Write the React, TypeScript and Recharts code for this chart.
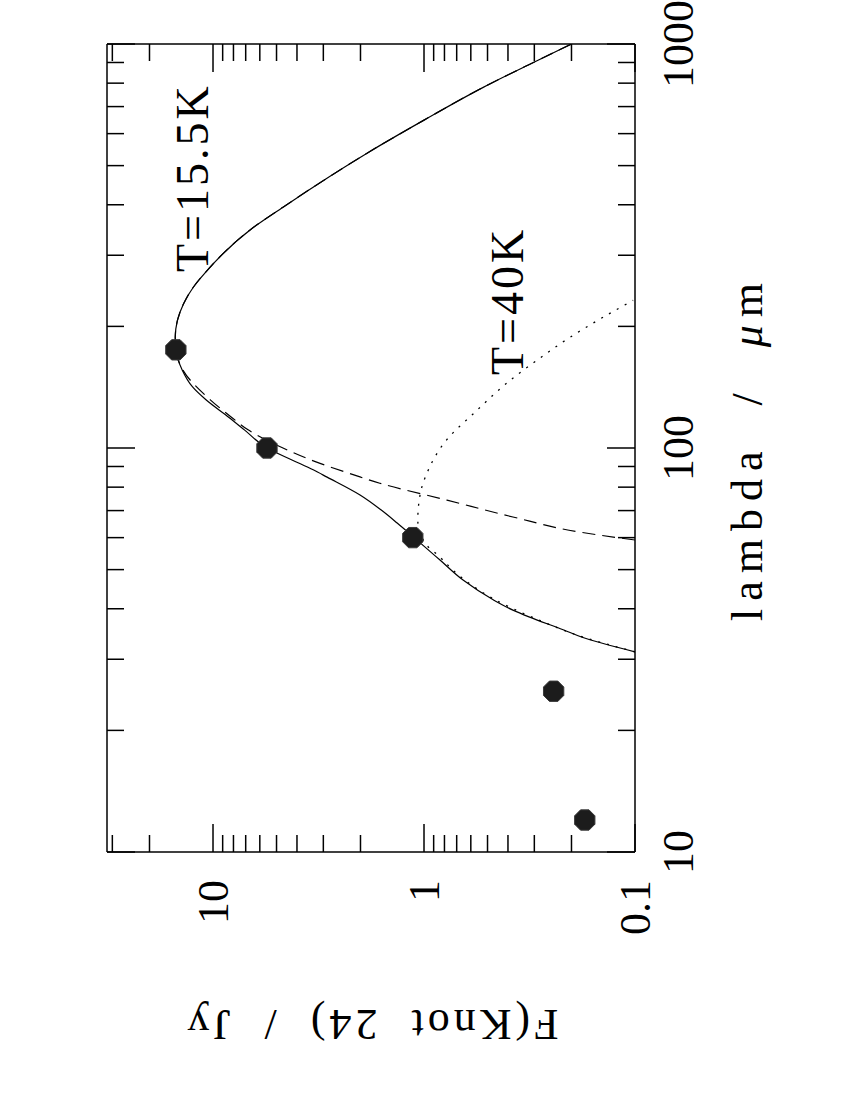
import { ComposedChart, Line, Scatter, XAxis, YAxis, Customized } from "recharts";

// wavelength (micron) and flux (Jy)
const pointLambda = [12, 25, 60, 100, 175];
const pointFlux = [0.173, 0.243, 1.13, 5.55, 15.0];

// total fit (solid)
const sumLambda = [31.3, 34.0, 35.5, 38.2, 39.7, 42.1, 47.1, 52.8, 59.9, 65.2, 70.3, 76.5, 84.7, 88.3, 93.3, 100, 110.9, 119, 131.6, 141.6, 156, 175, 188, 228, 250, 273, 347, 395, 448, 536, 648, 781, 900, 1000];
const sumFlux = [0.1, 0.178, 0.219, 0.318, 0.379, 0.47, 0.653, 0.84, 1.11, 1.34, 1.6, 2.01, 2.88, 3.35, 4.2, 5.55, 7.1, 8.4, 10.8, 12.5, 14.0, 15.0, 15.1, 13.77, 12.4, 10.8, 6.65, 4.64, 3.23, 1.87, 1.0, 0.524, 0.303, 0.2];

// T=15.5K component (dashed)
const coldLambda = [59.2, 61.9, 67.5, 74.3, 81.8, 85.8, 91.6, 100, 110.9, 119, 131.6, 156, 175, 188, 228, 250, 273, 347, 395, 448, 536, 648, 781, 900, 1000];
const coldFlux = [0.1, 0.182, 0.379, 0.778, 1.62, 2.15, 3.11, 4.66, 6.82, 8.15, 10.3, 13.9, 15.0, 15.1, 13.77, 12.4, 10.8, 6.65, 4.64, 3.23, 1.87, 1.0, 0.524, 0.303, 0.2];

// T=40K component (dotted)
const warmLambda = [31.3, 34.0, 38.2, 42.1, 47.1, 49.9, 53.7, 58.2, 66.4, 77.4, 86.7, 105, 123, 142, 147, 165, 188, 211, 232];
const warmFlux = [0.1, 0.175, 0.31, 0.46, 0.64, 0.73, 0.84, 0.99, 1.07, 1.04, 0.968, 0.778, 0.57, 0.423, 0.391, 0.291, 0.203, 0.141, 0.102];

const lambdaTicks = [10, 20, 30, 40, 50, 60, 70, 80, 90, 100, 200, 300, 400, 500, 600, 700, 800, 900, 1000];
const lambdaMajor = [10, 100, 1000];
const fluxTicks = [0.1, 0.2, 0.3, 0.4, 0.5, 0.6, 0.7, 0.8, 0.9, 1, 2, 3, 4, 5, 6, 7, 8, 9, 10, 20, 30];
const fluxMajor = [0.1, 1, 10];

const rows = (lam: number[], f: number[]) => lam.map((l, i) => ({ lambda: l, f: f[i] }));

const FONT = "'Liberation Serif', 'Times New Roman', serif";
const W = 1088;
const H = 708;
const MARGIN = { top: 10, right: 50, bottom: 150, left: 210 };
const AXIS = 10;
const PLOT_W = W - MARGIN.left - MARGIN.right - 2 * AXIS;

const BottomTick = (p: any) => {
  const x = Number(p.x);
  const y = Number(p.y);
  const major = lambdaMajor.includes(p.payload.value);
  return (
    <g>
      <line x1={x} y1={y} x2={x} y2={y - (major ? 28 : 17)} stroke="#000" strokeWidth={1.5} />
      {major && (
        <text x={x} y={y + 58} textAnchor="middle" fontSize={44} fontFamily={FONT} fill="#000">
          {p.payload.value}
        </text>
      )}
    </g>
  );
};

const TopTick = (p: any) => {
  const x = Number(p.x);
  const y = Number(p.y);
  const major = lambdaMajor.includes(p.payload.value);
  return <line x1={x} y1={y} x2={x} y2={y + (major ? 28 : 17)} stroke="#000" strokeWidth={1.5} />;
};

// left ticks + labels, and the mirrored ticks on the right edge of the frame
const LeftTick = (p: any) => {
  const x = Number(p.x);
  const y = Number(p.y);
  const major = fluxMajor.includes(p.payload.value);
  const len = major ? 28 : 17;
  const xr = x + PLOT_W;
  return (
    <g>
      <line x1={x} y1={y} x2={x + len} y2={y} stroke="#000" strokeWidth={1.5} />
      <line x1={xr} y1={y} x2={xr - len} y2={y} stroke="#000" strokeWidth={1.5} />
      {major && (
        <text x={x - 28} y={y + 15} textAnchor="end" fontSize={44} fontFamily={FONT} fill="#000">
          {p.payload.value}
        </text>
      )}
    </g>
  );
};

const Marker = (p: any) => {
  const r = 11;
  const pts = Array.from({ length: 8 }, (_, k) => {
    const a = ((22.5 + 45 * k) * Math.PI) / 180;
    return `${p.cx + r * Math.cos(a)},${p.cy + r * Math.sin(a)}`;
  }).join(" ");
  return <polygon points={pts} fill="#1c1c1c" stroke="#3a3a3a" strokeWidth={1} />;
};

const Texts = () => (
  <g fontFamily={FONT} fill="#000">
    <text x={624} y={675} textAnchor="middle" fontSize={44} letterSpacing={8} style={{ whiteSpace: "pre" }}>
      {"lambda  /  "}
      <tspan fontStyle="italic">μ</tspan>
      {"m"}
    </text>
    <text
      x={62}
      y={284}
      textAnchor="middle"
      fontSize={44}
      letterSpacing={4}
      transform="rotate(-90 62 284)"
      style={{ whiteSpace: "pre" }}
    >
      {"F(Knot  24)  /  Jy"}
    </text>
    <text x={800} y={121} fontSize={46} letterSpacing={3}>T=15.5K</text>
    <text x={697} y={436} fontSize={46} letterSpacing={3}>T=40K</text>
  </g>
);

export default function App() {
  return (
    <div
      style={{
        position: "absolute",
        left: 87,
        top: -16,
        width: W,
        height: H,
        transformOrigin: "0 0",
        transform: `translateY(${W}px) rotate(-90deg)`,
      }}
    >
      <ComposedChart width={W} height={H} margin={MARGIN}>
        <XAxis
          dataKey="lambda"
          type="number"
          scale="log"
          domain={[10, 1000]}
          allowDataOverflow
          ticks={lambdaTicks}
          interval={0}
          height={AXIS}
          tickSize={0}
          tickMargin={0}
          tickLine={false}
          tick={(p: any) => <BottomTick {...p} />}
          axisLine={{ stroke: "#000", strokeWidth: 1.5 }}
        />
        <XAxis
          xAxisId="top"
          orientation="top"
          dataKey="lambda"
          type="number"
          scale="log"
          domain={[10, 1000]}
          allowDataOverflow
          ticks={lambdaTicks}
          interval={0}
          height={AXIS}
          tickSize={0}
          tickMargin={0}
          tickLine={false}
          tick={(p: any) => <TopTick {...p} />}
          axisLine={{ stroke: "#000", strokeWidth: 1.5 }}
        />
        <YAxis
          type="number"
          scale="log"
          domain={[0.1, 31.8]}
          allowDataOverflow
          ticks={fluxTicks}
          interval={0}
          width={AXIS}
          tickSize={0}
          tickMargin={0}
          tickLine={false}
          tick={(p: any) => <LeftTick {...p} />}
          axisLine={{ stroke: "#000", strokeWidth: 1.5 }}
        />
        <YAxis
          yAxisId="right"
          orientation="right"
          type="number"
          scale="log"
          domain={[0.1, 31.8]}
          allowDataOverflow
          width={AXIS}
          tick={false}
          tickLine={false}
          axisLine={{ stroke: "#000", strokeWidth: 1.5 }}
        />
        {/* invisible copy so the mirror axes get data */}
        <Line
          data={rows(pointLambda, pointFlux)}
          xAxisId="top"
          yAxisId="right"
          dataKey="f"
          stroke="none"
          dot={false}
          activeDot={false}
          legendType="none"
          isAnimationActive={false}
        />
        <Line
          data={rows(warmLambda, warmFlux)}
          dataKey="f"
          type="monotone"
          stroke="#000"
          strokeWidth={1.3}
          strokeDasharray="2 7"
          dot={false}
          isAnimationActive={false}
        />
        <Line
          data={rows(coldLambda, coldFlux)}
          dataKey="f"
          type="monotone"
          stroke="#000"
          strokeWidth={1.2}
          strokeDasharray="13 7"
          dot={false}
          isAnimationActive={false}
        />
        <Line
          data={rows(sumLambda, sumFlux)}
          dataKey="f"
          type="monotone"
          stroke="#000"
          strokeWidth={1.2}
          dot={false}
          isAnimationActive={false}
        />
        <Scatter data={rows(pointLambda, pointFlux)} dataKey="f" shape={Marker} isAnimationActive={false} />
        <Customized component={Texts} />
      </ComposedChart>
    </div>
  );
}
